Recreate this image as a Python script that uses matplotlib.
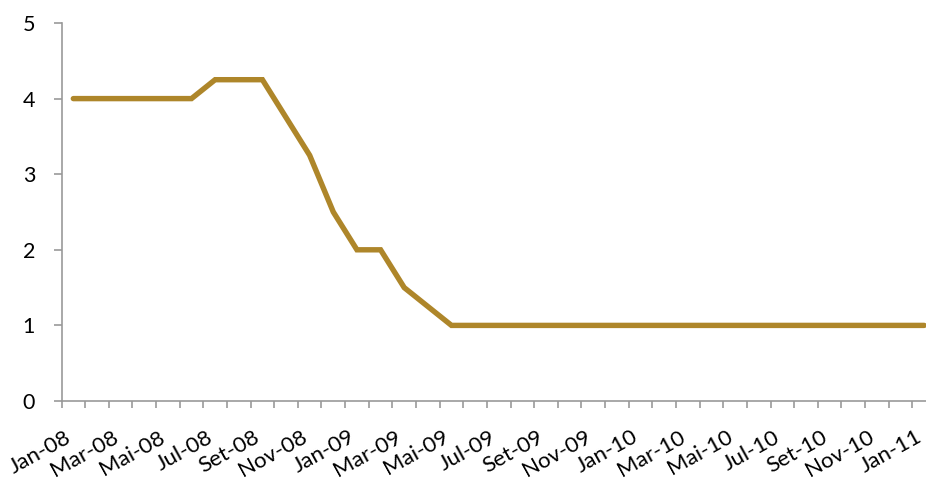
import matplotlib.pyplot as plt
import matplotlib.transforms as mtransforms
import numpy as np

plt.rcParams['font.family'] = ['Lato', 'DejaVu Sans']

months = ['Jan', 'Fev', 'Mar', 'Abr', 'Mai', 'Jun', 'Jul', 'Ago', 'Set', 'Out', 'Nov', 'Dez']
labels = [m + '-' + y for y in ['08', '09', '10'] for m in months] + ['Jan-11']

values = [4, 4, 4, 4, 4, 4, 4.25, 4.25, 4.25, 3.75, 3.25, 2.5,
          2, 2, 1.5, 1.25, 1, 1, 1, 1, 1, 1, 1, 1,
          1, 1, 1, 1, 1, 1, 1, 1, 1, 1, 1, 1,
          1]

x = np.arange(len(labels))

fig = plt.figure(figsize=(9.26, 4.79), dpi=100)
ax = fig.add_axes([61.5 / 926, 1 - 401 / 479, (936 - 61.5) / 926, (401 - 23) / 479])
ax.plot(x, values, color='#AE862A', linewidth=3.9, solid_capstyle='round', solid_joinstyle='miter')

ax.set_xlim(-0.5, len(labels) - 0.5)
ax.set_ylim(0, 5)
ax.set_yticks(range(0, 6))

ax.set_xticks(x[::2])
ax.set_xticklabels(labels[::2], rotation=29, ha='right', va='center', rotation_mode='anchor')
ax.set_xticks(np.arange(-0.5, len(labels), 1), minor=True)
ax.tick_params(axis='x', which='major', length=0, pad=25, labelsize=16)
ax.tick_params(axis='x', which='minor', length=5, color='#999999', width=1.2)
ax.tick_params(axis='y', length=6, color='#999999', width=1.2, labelsize=15.5, pad=13)

# nudge labels a bit left so the last one stays inside the picture
shift = mtransforms.ScaledTranslation(-4 / 100, 0, fig.dpi_scale_trans)
for lab in ax.get_xticklabels():
    lab.set_transform(lab.get_transform() + shift)

for s in ['top', 'right']:
    ax.spines[s].set_visible(False)
for s in ['left', 'bottom']:
    ax.spines[s].set_color('#999999')
    ax.spines[s].set_linewidth(1.2)

plt.savefig('out.png', dpi=100)
